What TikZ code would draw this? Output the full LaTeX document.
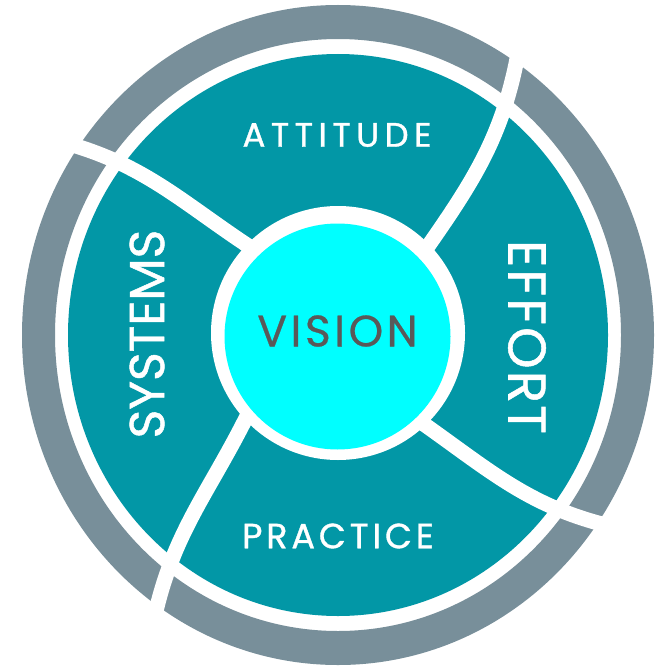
\documentclass[tikz,border=0pt]{standalone}
\usepackage{fontspec}
\setmainfont{Poppins}
\newfontfamily\attfont[LetterSpace=16,FakeBold=1]{Poppins}
\newfontfamily\prafont[LetterSpace=11,FakeBold=1]{Poppins}
\newfontfamily\visfont[LetterSpace=8,FakeBold=0.6]{Poppins}
\newfontfamily\efffont[LetterSpace=4,FakeBold=1]{Poppins}
\newfontfamily\sysfont[FakeBold=1]{Poppins}
\definecolor{tealfill}{RGB}{2,151,166}
\definecolor{ringgray}{RGB}{120,143,154}
\definecolor{visiontext}{RGB}{89,89,89}
\definecolor{visioncyan}{RGB}{0,255,255}
\begin{document}
\begin{tikzpicture}[x=1pt,y=-1pt,
  divider/.style={white, line width=15pt},
  lbl/.style={text=white, inner sep=0pt}]
\useasboundingbox (0,0) rectangle (654,666);
\coordinate (c) at (338,335);
% outer gray ring
\fill[ringgray, even odd rule] (c) ellipse [x radius=316pt, y radius=330pt]
  (c) ellipse [x radius=283pt, y radius=296pt];
% teal disc
\fill[tealfill] (c) ellipse [x radius=270pt, y radius=281pt];
% dividers
\coordinate (tr0) at (424,252); \coordinate (tr1) at (519,48);
\coordinate (tl0) at (256,251); \coordinate (tl1) at (62,142);
\coordinate (bl0) at (250,410); \coordinate (bl1) at (154,620);
\coordinate (br0) at (418,420); \coordinate (br1) at (614,527);
\draw[divider] (tr0) to[out=55,in=-100] (tr1);
\draw[divider] (tl0) to[out=147,in=-15] (tl1);
\draw[divider] (bl0) to[out=-116,in=78] (bl1);
\draw[divider] (br0) to[out=-35,in=167] (br1);
% center circle
\fill[white] (338,333) circle [radius=127pt];
\node[circle, fill=visioncyan, minimum size=226pt, inner sep=0pt] (vc) at (337.5,336.5) {};
\node[text=visiontext, inner sep=0pt, font=\visfont\fontsize{44}{44}\selectfont] (vis) at (337.5,331) {VISION};
% labels
\node[lbl, font=\attfont\fontsize{34}{34}\selectfont] (att) at (337,135) {ATTITUDE};
\node[lbl, font=\prafont\fontsize{35}{35}\selectfont] (pra) at (338,536) {PRACTICE};
\node[lbl, font=\efffont\fontsize{53}{53}\selectfont, rotate=-90] (eff) at (527,337) {EFFORT};
\node[lbl, font=\sysfont\fontsize{49}{49}\selectfont, rotate=90] (sys) at (147,334) {SYSTEMS};
\end{tikzpicture}
\end{document}
